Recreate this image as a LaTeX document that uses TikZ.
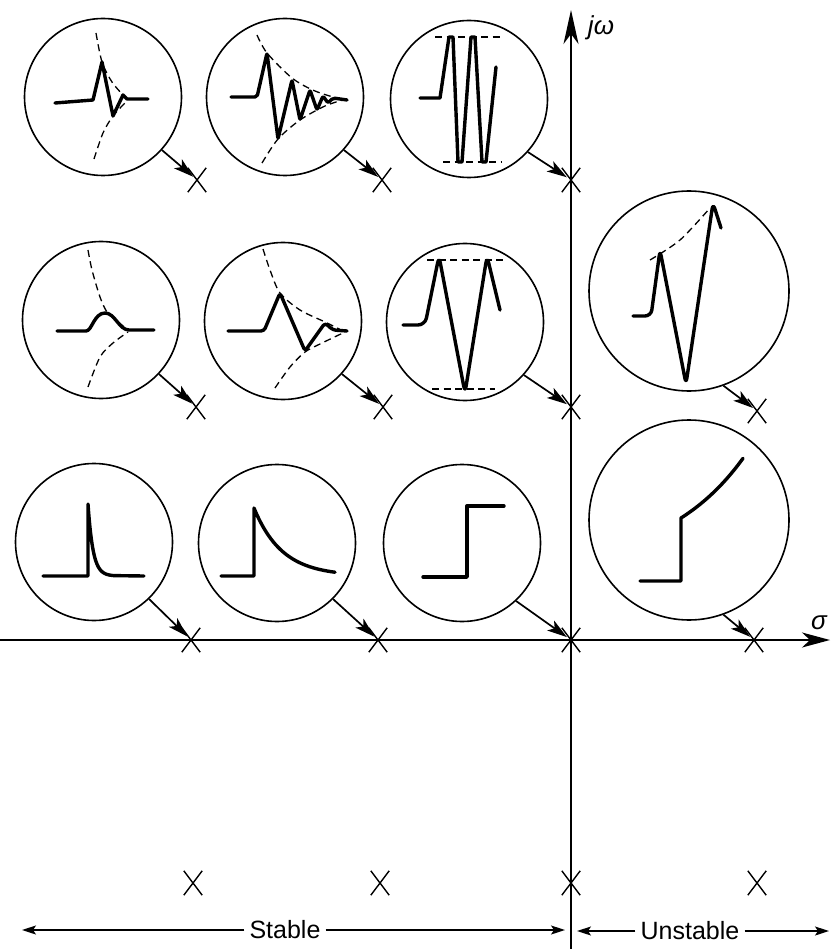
\documentclass[tikz,border=0pt]{standalone}
\usepackage{fontspec}
\setsansfont{Liberation Sans}
\usetikzlibrary{arrows.meta,shapes.misc}
\begin{document}
\begin{tikzpicture}[x=1pt,y=-1pt,
  ring/.style={circle,draw,line width=1.6pt,minimum size=157pt,inner sep=0pt},
  bigring/.style={ring,minimum size=200pt},
  pole/.style={cross out,draw,line width=1.4pt,minimum width=17pt,minimum height=23pt,inner sep=0pt},
  wave/.style={line width=3.4pt,line join=round,line cap=round},
  env/.style={line width=1.3pt,dash pattern=on 7pt off 4.5pt},
  ptr/.style={line width=1.7pt,-{Stealth[length=20pt,width=12pt,inset=5pt]},shorten >=5pt},
  axisline/.style={line width=1.7pt},
  span/.style={line width=1.4pt,-{Stealth[length=14pt,width=9pt,inset=3pt]}},
  lbl/.style={font=\sffamily\fontsize{25}{25}\selectfont,inner sep=5pt},
  axlbl/.style={font=\sffamily\itshape\fontsize{26}{26}\selectfont,inner sep=1pt},
]
\fill[white] (0,0) rectangle (830,949);
\useasboundingbox (0,0) rectangle (830,949);

% axes
\coordinate (otop) at (571,10);
\coordinate (obot) at (571,949);
\coordinate (sl) at (0,640);
\coordinate (sr) at (830,640);
\draw[axisline,-{Stealth[length=34pt,width=15pt,inset=10pt]}] (obot) -- (otop);
\draw[axisline,-{Stealth[length=28pt,width=15pt,inset=8pt]}] (sl) -- (sr);
\node[axlbl] (jw) at (601,28) {jω};
\node[axlbl] (sg) at (819,623) {σ};

% poles
\node[pole] (p11) at (197,180) {};
\node[pole] (p12) at (382,180) {};
\node[pole] (p13) at (571,180) {};
\node[pole] (p21) at (196,407) {};
\node[pole] (p22) at (383,407) {};
\node[pole] (p23) at (571,407) {};
\node[pole] (p24) at (757,411) {};
\node[pole] (p31) at (191,640) {};
\node[pole] (p32) at (378,640) {};
\node[pole] (p33) at (571,640) {};
\node[pole] (p34) at (754,640) {};
\node[pole] (p41) at (193,883) {};
\node[pole] (p42) at (380,883) {};
\node[pole] (p43) at (571,883) {};
\node[pole] (p44) at (757,883) {};

% circles
\node[ring] (c11) at (103,97) {};
\node[ring] (c12) at (285,97) {};
\node[ring] (c13) at (469,99) {};
\node[ring] (c21) at (101,320) {};
\node[ring] (c22) at (283,321) {};
\node[ring] (c23) at (465,322) {};
\node[bigring] (c24) at (689,291) {};
\node[ring] (c31) at (94,542) {};
\node[ring] (c32) at (277,543) {};
\node[ring] (c33) at (462,543) {};
\node[bigring] (c34) at (689,520) {};

% pointers
\draw[ptr] (c11.-42) -- (p11.center);
\draw[ptr] (c12.-42) -- (p12.center);
\draw[ptr] (c13.-42) -- (p13.center);
\draw[ptr] (c21.-43) -- (p21.center);
\draw[ptr] (c22.-42) -- (p22.center);
\draw[ptr] (c23.-42) -- (p23.center);
\draw[ptr] (c24.-70) -- (p24.center);
\draw[ptr] (c31.-46) -- (p31.center);
\draw[ptr] (c32.-45) -- (p32.center);
\draw[ptr] (c33.-47) -- (p33.center);
\draw[ptr] (c34.-70) -- (p34.center);

% waveforms row 1
\begin{scope}[shift={(c11.center)}]
  \draw[wave] (-48,6) -- (-10,3) -- (-1,-35) -- (10,19) -- (20,-2) -- (24,2) -- (45,2);
  \draw[env] plot[smooth] coordinates {(-7,-64) (-1,-35) (9,-15) (22,0) (26,2)};
  \draw[env] plot[smooth] coordinates {(-9,62) (0,36) (10,19) (23,5)};
\end{scope}
\begin{scope}[shift={(c12.center)}]
  \draw[wave,rounded corners=2pt] (-54,0) -- (-28,0) -- (-18,-44) -- (-7,42) -- (7,-17) -- (15,23) -- (25,-7) -- (32,13) -- (38,-1) -- (43,6) -- (48,1) -- (62,3);
  \draw[env] plot[smooth] coordinates {(-28,-62) (-18,-44) (7,-19) (30,-6) (58,3)};
  \draw[env] plot[smooth] coordinates {(-23,66) (-7,42) (15,23) (40,9) (58,3)};
\end{scope}
\begin{scope}[shift={(c13.center)}]
  \draw[wave] (-49,-1) -- (-29,-1) -- (-20,-62) -- (-16,-62) -- (-11,63) -- (-7,63) -- (2,-62) -- (6,-62) -- (13,63) -- (17,63) -- (27,-32);
  \draw[env] (-34,-62) -- (31,-62);
  \draw[env] (-26,63) -- (33,63);
\end{scope}

% waveforms row 2
\begin{scope}[shift={(c21.center)}]
  \draw[wave] (-44,11) -- (-15,11) .. controls (-9,11) and (-7,-7) .. (4,-7) .. controls (14,-7) and (18,10) .. (28,10) -- (53,10);
  \draw[env] plot[smooth] coordinates {(-13,-70) (-9,-50) (-1,-23) (6,-8) (16,1) (27,10)};
  \draw[env] plot[smooth] coordinates {(-13,67) (-1,37) (12,23) (27,12)};
\end{scope}
\begin{scope}[shift={(c22.center)}]
  \draw[wave,rounded corners=3pt] (-55,10) -- (-19,10) -- (-3,-28) -- (22,30) -- (42,2) -- (50,9) -- (64,10);
  \draw[env] plot[smooth] coordinates {(-20,-72) (-13,-51) (-3,-28) (17,-11) (42,1) (62,11)};
  \draw[env] plot[smooth] coordinates {(-8,67) (7,46) (22,31) (37,23) (62,11)};
\end{scope}
\begin{scope}[shift={(c23.center)}]
  \draw[wave,rounded corners=7pt] (-62,3) -- (-40,3) -- (-26,-66) -- (0,71) -- (22,-66) -- (35,-12);
  \draw[env] (-38,-62) -- (40,-62);
  \draw[env] (-33,67) -- (30,67);
\end{scope}
\begin{scope}[shift={(c24.center)}]
  \draw[wave,rounded corners=6pt] (-56,25) -- (-38,25) -- (-29,-41) -- (-3,93) -- (24,-88) -- (32,-63);
  \draw[env] plot[smooth] coordinates {(-39,-31) (-9,-51) (21,-83)};
\end{scope}

% waveforms row 3
\begin{scope}[shift={(c31.center)}]
  \draw[wave] (-51,34) -- (-6,34) -- (-6,-38) -- plot[domain=0:26,samples=40,variable=\t] ({-6+\t},{34-72*exp(-\t/5)}) -- (50,34);
\end{scope}
\begin{scope}[shift={(c32.center)}]
  \draw[wave] (-56,33) -- (-23,33) -- (-23,-35) -- plot[domain=0:81,samples=50,variable=\t] ({-23+\t},{33-68*exp(-\t/28)});
\end{scope}
\begin{scope}[shift={(c33.center)}]
  \draw[wave] (-39,34) -- (5,34) -- (5,-37) -- (42,-37);
\end{scope}
\begin{scope}[shift={(c34.center)}]
  \draw[wave] (-49,61) -- (-8,61) -- (-8,-2) -- plot[domain=0:62,samples=40,variable=\t] ({-8+\t},{-2-51*(exp(\t/80)-1)});
\end{scope}

% stable / unstable
\node[lbl] (st) at (285,930) {Stable};
\node[lbl] (un) at (690,931) {Unstable};
\coordinate (stl) at (22,930);
\coordinate (str) at (565,930);
\coordinate (unl) at (577,931);
\coordinate (unr) at (829,931);
\draw[span] (st.west) -- (stl);
\draw[span] (st.east) -- (str);
\draw[span] (un.west) -- (unl);
\draw[span] (un.east) -- (unr);
\end{tikzpicture}
\end{document}
